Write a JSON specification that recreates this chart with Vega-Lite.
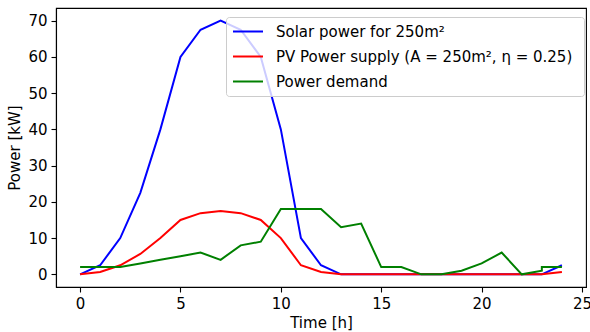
{
  "$schema": "https://vega.github.io/schema/vega-lite/v6.json",
  "width": 530,
  "height": 279,
  "autosize": {"type": "none"},
  "padding": {"left": 56, "top": 8, "right": 4, "bottom": 45},
  "background": "white",
  "config": {
    "font": "DejaVu Sans",
    "view": {"stroke": "black", "strokeWidth": 1.1},
    "axis": {
      "grid": false,
      "domainColor": "black",
      "domainWidth": 1.1,
      "tickColor": "black",
      "tickWidth": 1.1,
      "tickSize": 5,
      "labelColor": "black",
      "labelFont": "DejaVu Sans",
      "labelFontSize": 15,
      "labelPadding": 4,
      "titleColor": "black",
      "titleFont": "DejaVu Sans",
      "titleFontSize": 15,
      "titleFontWeight": "normal"
    },
    "legend": {
      "labelFont": "DejaVu Sans",
      "labelFontSize": 15,
      "labelColor": "black",
      "labelLimit": 0
    }
  },
  "data": {
    "values": [
      {"series": "Solar power for 250m²", "t": 0, "p": 0, "o": 0},
      {"series": "Solar power for 250m²", "t": 1, "p": 2.5, "o": 1},
      {"series": "Solar power for 250m²", "t": 2, "p": 10, "o": 2},
      {"series": "Solar power for 250m²", "t": 3, "p": 22.5, "o": 3},
      {"series": "Solar power for 250m²", "t": 4, "p": 40, "o": 4},
      {"series": "Solar power for 250m²", "t": 5, "p": 60, "o": 5},
      {"series": "Solar power for 250m²", "t": 6, "p": 67.5, "o": 6},
      {"series": "Solar power for 250m²", "t": 7, "p": 70, "o": 7},
      {"series": "Solar power for 250m²", "t": 8, "p": 67.5, "o": 8},
      {"series": "Solar power for 250m²", "t": 9, "p": 60, "o": 9},
      {"series": "Solar power for 250m²", "t": 10, "p": 40, "o": 10},
      {"series": "Solar power for 250m²", "t": 11, "p": 10, "o": 11},
      {"series": "Solar power for 250m²", "t": 12, "p": 2.5, "o": 12},
      {"series": "Solar power for 250m²", "t": 13, "p": 0, "o": 13},
      {"series": "Solar power for 250m²", "t": 14, "p": 0, "o": 14},
      {"series": "Solar power for 250m²", "t": 15, "p": 0, "o": 15},
      {"series": "Solar power for 250m²", "t": 16, "p": 0, "o": 16},
      {"series": "Solar power for 250m²", "t": 17, "p": 0, "o": 17},
      {"series": "Solar power for 250m²", "t": 18, "p": 0, "o": 18},
      {"series": "Solar power for 250m²", "t": 19, "p": 0, "o": 19},
      {"series": "Solar power for 250m²", "t": 20, "p": 0, "o": 20},
      {"series": "Solar power for 250m²", "t": 21, "p": 0, "o": 21},
      {"series": "Solar power for 250m²", "t": 22, "p": 0, "o": 22},
      {"series": "Solar power for 250m²", "t": 23, "p": 0, "o": 23},
      {"series": "Solar power for 250m²", "t": 24, "p": 2.5, "o": 24},
      {"series": "PV Power supply (A = 250m², η =  0.25)", "t": 0, "p": 0, "o": 0},
      {"series": "PV Power supply (A = 250m², η =  0.25)", "t": 1, "p": 0.625, "o": 1},
      {"series": "PV Power supply (A = 250m², η =  0.25)", "t": 2, "p": 2.5, "o": 2},
      {"series": "PV Power supply (A = 250m², η =  0.25)", "t": 3, "p": 5.625, "o": 3},
      {"series": "PV Power supply (A = 250m², η =  0.25)", "t": 4, "p": 10, "o": 4},
      {"series": "PV Power supply (A = 250m², η =  0.25)", "t": 5, "p": 15, "o": 5},
      {"series": "PV Power supply (A = 250m², η =  0.25)", "t": 6, "p": 16.875, "o": 6},
      {"series": "PV Power supply (A = 250m², η =  0.25)", "t": 7, "p": 17.5, "o": 7},
      {"series": "PV Power supply (A = 250m², η =  0.25)", "t": 8, "p": 16.875, "o": 8},
      {"series": "PV Power supply (A = 250m², η =  0.25)", "t": 9, "p": 15, "o": 9},
      {"series": "PV Power supply (A = 250m², η =  0.25)", "t": 10, "p": 10, "o": 10},
      {"series": "PV Power supply (A = 250m², η =  0.25)", "t": 11, "p": 2.5, "o": 11},
      {"series": "PV Power supply (A = 250m², η =  0.25)", "t": 12, "p": 0.625, "o": 12},
      {"series": "PV Power supply (A = 250m², η =  0.25)", "t": 13, "p": 0, "o": 13},
      {"series": "PV Power supply (A = 250m², η =  0.25)", "t": 14, "p": 0, "o": 14},
      {"series": "PV Power supply (A = 250m², η =  0.25)", "t": 15, "p": 0, "o": 15},
      {"series": "PV Power supply (A = 250m², η =  0.25)", "t": 16, "p": 0, "o": 16},
      {"series": "PV Power supply (A = 250m², η =  0.25)", "t": 17, "p": 0, "o": 17},
      {"series": "PV Power supply (A = 250m², η =  0.25)", "t": 18, "p": 0, "o": 18},
      {"series": "PV Power supply (A = 250m², η =  0.25)", "t": 19, "p": 0, "o": 19},
      {"series": "PV Power supply (A = 250m², η =  0.25)", "t": 20, "p": 0, "o": 20},
      {"series": "PV Power supply (A = 250m², η =  0.25)", "t": 21, "p": 0, "o": 21},
      {"series": "PV Power supply (A = 250m², η =  0.25)", "t": 22, "p": 0, "o": 22},
      {"series": "PV Power supply (A = 250m², η =  0.25)", "t": 23, "p": 0, "o": 23},
      {"series": "PV Power supply (A = 250m², η =  0.25)", "t": 24, "p": 0.625, "o": 24},
      {"series": "Power demand", "t": 0, "p": 2, "o": 0},
      {"series": "Power demand", "t": 1, "p": 2, "o": 1},
      {"series": "Power demand", "t": 2, "p": 2, "o": 2},
      {"series": "Power demand", "t": 3, "p": 3, "o": 3},
      {"series": "Power demand", "t": 4, "p": 4, "o": 4},
      {"series": "Power demand", "t": 5, "p": 5, "o": 5},
      {"series": "Power demand", "t": 6, "p": 6, "o": 6},
      {"series": "Power demand", "t": 7, "p": 4, "o": 7},
      {"series": "Power demand", "t": 8, "p": 8, "o": 8},
      {"series": "Power demand", "t": 9, "p": 9, "o": 9},
      {"series": "Power demand", "t": 10, "p": 18, "o": 10},
      {"series": "Power demand", "t": 11, "p": 18, "o": 11},
      {"series": "Power demand", "t": 12, "p": 18, "o": 12},
      {"series": "Power demand", "t": 13, "p": 13, "o": 13},
      {"series": "Power demand", "t": 14, "p": 14, "o": 14},
      {"series": "Power demand", "t": 15, "p": 2, "o": 15},
      {"series": "Power demand", "t": 16, "p": 2, "o": 16},
      {"series": "Power demand", "t": 17, "p": 0, "o": 17},
      {"series": "Power demand", "t": 18, "p": 0, "o": 18},
      {"series": "Power demand", "t": 19, "p": 1, "o": 19},
      {"series": "Power demand", "t": 20, "p": 3, "o": 20},
      {"series": "Power demand", "t": 21, "p": 6, "o": 21},
      {"series": "Power demand", "t": 22, "p": 0, "o": 22},
      {"series": "Power demand", "t": 23, "p": 1, "o": 23},
      {"series": "Power demand", "t": 23, "p": 2, "o": 24},
      {"series": "Power demand", "t": 24, "p": 2, "o": 25}
    ]
  },
  "mark": {"type": "line", "strokeWidth": 2, "clip": true},
  "encoding": {
    "x": {
      "field": "t",
      "type": "quantitative",
      "title": "Time [h]",
      "scale": {"domain": [-1.2, 25.2], "nice": false, "zero": false},
      "axis": {"values": [0, 5, 10, 15, 20, 25], "titlePadding": 4}
    },
    "y": {
      "field": "p",
      "type": "quantitative",
      "title": "Power [kW]",
      "scale": {"domain": [-3.5, 73.5], "nice": false, "zero": false},
      "axis": {"values": [0, 10, 20, 30, 40, 50, 60, 70], "titlePadding": 5}
    },
    "color": {
      "field": "series",
      "type": "nominal",
      "scale": {
        "domain": ["Solar power for 250m²", "PV Power supply (A = 250m², η =  0.25)", "Power demand"],
        "range": ["#0000ff", "#ff0000", "#008000"]
      },
      "legend": {
        "title": null,
        "orient": "none",
        "legendX": 170,
        "legendY": 9,
        "symbolType": "M-1,0H3",
        "symbolSize": 225,
        "symbolStrokeWidth": 2,
        "labelOffset": 27,
        "rowPadding": 8,
        "padding": 6,
        "fillColor": "rgba(255,255,255,0.8)",
        "strokeColor": "#cccccc",
        "cornerRadius": 3
      }
    },
    "order": {"field": "o", "type": "quantitative"}
  }
}
